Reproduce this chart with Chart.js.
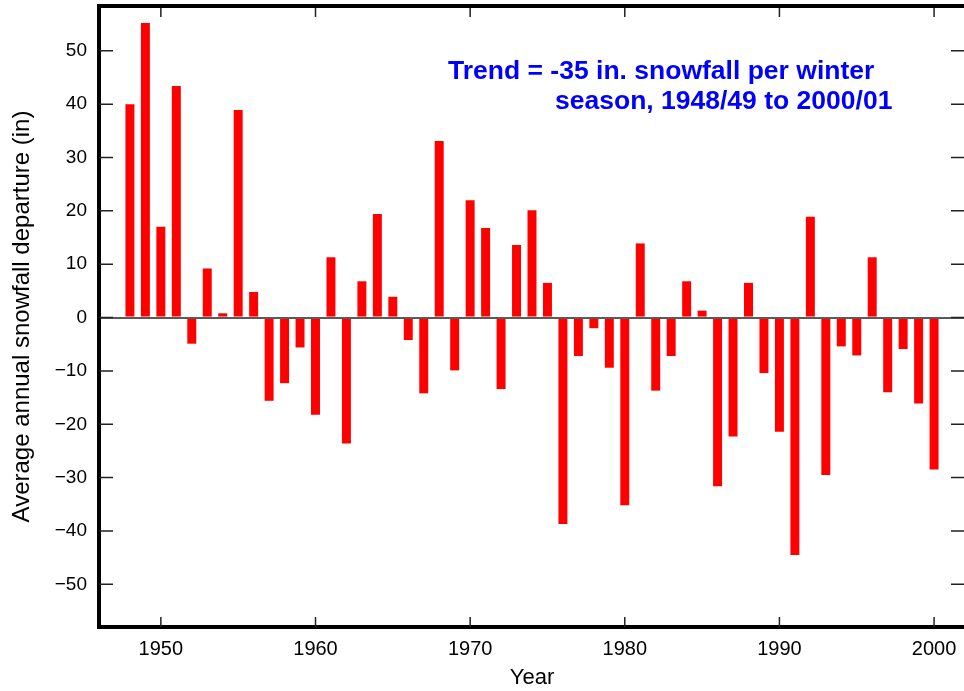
<!DOCTYPE html>
<html>
<head>
<meta charset="utf-8">
<script src="https://cdn.jsdelivr.net/npm/chart.js@4.4.1/dist/chart.umd.min.js"></script>
<style>
  html, body { margin: 0; padding: 0; background: #fff; overflow: hidden; }
  #wrap { width: 968px; height: 691px; }
</style>
</head>
<body>
<div id="wrap"><canvas id="graf" width="968" height="691"></canvas></div>
<script>
// años (temporada invernal que empieza)
const years = [1948, 1949, 1950, 1951, 1952, 1953, 1954, 1955, 1956, 1957,
    1958, 1959, 1960, 1961, 1962, 1963, 1964, 1965, 1966, 1967,
    1968, 1969, 1970, 1971, 1972, 1973, 1974, 1975, 1976, 1977,
    1978, 1979, 1980, 1981, 1982, 1983, 1984, 1985, 1986, 1987,
    1988, 1989, 1990, 1991, 1992, 1993, 1994, 1995, 1996, 1997,
    1998, 1999, 2000];

// desviación anual de nevada (in)
const departures = [40.0, 55.2, 17.0, 43.4, -4.9, 9.2, 0.8, 38.9, 4.8, -15.6,
    -12.3, -5.6, -18.2, 11.3, -23.6, 6.8, 19.4, 3.9, -4.2, -14.2,
    33.1, -9.9, 22.0, 16.8, -13.4, 13.6, 20.1, 6.5, -38.7, -7.2,
    -2.0, -9.4, -35.2, 13.9, -13.7, -7.2, 6.8, 1.3, -31.6, -22.3,
    6.5, -10.4, -21.4, -44.5, 18.9, -29.5, -5.4, -7.1, 11.3, -14.0,
    -5.9, -16.1, -28.5];

const xTicks = [1950, 1960, 1970, 1980, 1990, 2000];
const yTicks = [-50, -40, -30, -20, -10, 0, 10, 20, 30, 40, 50];

const trendLines = ["Trend = -35 in. snowfall per winter", "season, 1948/49 to 2000/01"];

const sans = "'Liberation Sans', Arial, Helvetica, sans-serif";

// --- marcas hacia dentro, marco superior y texto de tendencia ---
const marcas = {
    id: "marcas",
    afterDraw(chart) {
        const ctx = chart.ctx;
        const a = chart.chartArea;
        const sx = chart.scales.x;
        const sy = chart.scales.y;
        ctx.save();
        ctx.strokeStyle = "#222";
        ctx.lineWidth = 1.5;
        ctx.beginPath();
        yTicks.forEach(v => {
            const py = sy.getPixelForValue(v);
            ctx.moveTo(a.left, py); ctx.lineTo(a.left + 14, py);
            ctx.moveTo(a.right - 14, py); ctx.lineTo(a.right, py);
        });
        xTicks.forEach(v => {
            const px = sx.getPixelForValue(v);
            ctx.moveTo(px, a.bottom); ctx.lineTo(px, a.bottom - 10);
            ctx.moveTo(px, a.top); ctx.lineTo(px, a.top + 11);
        });
        ctx.stroke();

        ctx.strokeStyle = "#000";
        ctx.lineWidth = 4;
        ctx.beginPath();
        ctx.moveTo(a.left - 2, a.top);
        ctx.lineTo(a.right, a.top);
        ctx.stroke();

        ctx.fillStyle = "#0000ff";
        ctx.font = "bold 26.5px " + sans;
        ctx.textBaseline = "alphabetic";
        ctx.fillText(trendLines[0], 448, 79);
        ctx.fillText(trendLines[1], 555, 109);
        ctx.restore();
    }
};

new Chart(document.getElementById("graf"), {
    type: "bar",
    data: {
        datasets: [{
            label: "Snowfall departure",
            data: years.map((y, i) => ({ x: y, y: departures[i] })),
            backgroundColor: "#ff0000",
            borderWidth: 0,
            barPercentage: 0.58,
            categoryPercentage: 1
        }]
    },
    options: {
        responsive: false,
        animation: false,
        layout: { padding: { top: 6, right: 3, left: 0, bottom: 0 } },
        plugins: {
            legend: { display: false },
            tooltip: { enabled: false }
        },
        scales: {
            x: {
                type: "linear",
                min: 1946,
                max: 2002,
                offset: false,
                afterBuildTicks: s => { s.ticks = xTicks.map(v => ({ value: v })); },
                afterFit: s => { s.height = 64; s.paddingLeft = 0; s.paddingRight = 0; },
                grid: { display: false, drawTicks: false },
                border: { display: true, color: "#000", width: 4 },
                ticks: {
                    padding: 10,
                    color: "#000",
                    font: { family: sans, size: 20 },
                    callback: v => String(v),
                    maxRotation: 0
                },
                title: {
                    display: true,
                    text: "Year",
                    color: "#000",
                    font: { family: sans, size: 22 },
                    padding: { top: 0, bottom: 0 }
                }
            },
            y: {
                min: -58,
                max: 58.4,
                afterBuildTicks: s => { s.ticks = yTicks.map(v => ({ value: v })); },
                afterFit: s => { s.width = 99; s.paddingTop = 0; s.paddingBottom = 0; },
                grid: {
                    drawTicks: false,
                    z: 1,
                    lineWidth: 2,
                    color: c => (c.tick && c.tick.value === 0 ? "#5a5a5a" : "rgba(0,0,0,0)")
                },
                border: { display: true, color: "#000", width: 4, z: 1 },
                ticks: {
                    padding: 12,
                    color: "#000",
                    font: { family: sans, size: 19 },
                    callback: v => (v < 0 ? "\u2212" + Math.abs(v) : String(v))
                },
                title: {
                    display: true,
                    text: "Average annual snowfall departure (in)",
                    color: "#000",
                    font: { family: sans, size: 24 },
                    padding: { top: 8, bottom: 0 }
                }
            }
        }
    },
    plugins: [marcas]
});
</script>
</body>
</html>
